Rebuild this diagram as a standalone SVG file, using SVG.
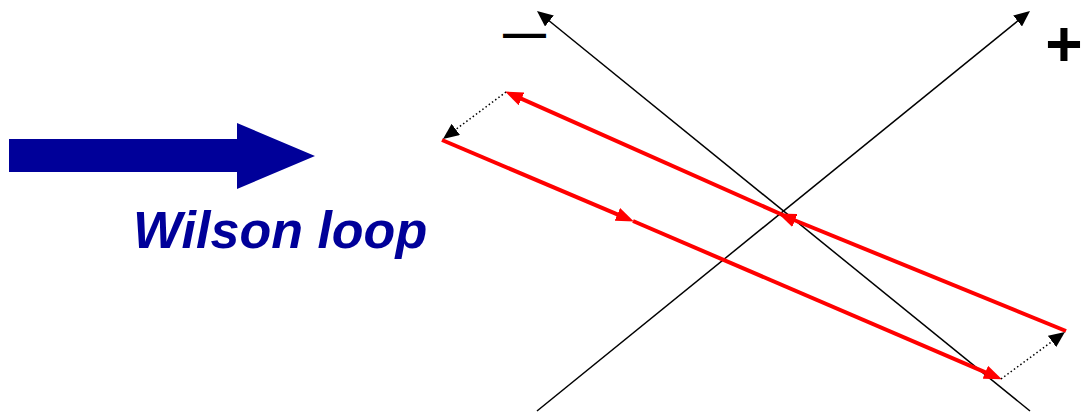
<svg xmlns="http://www.w3.org/2000/svg" width="1084" height="413" viewBox="0 0 1084 413">
<style>
.axis{stroke:#000;stroke-width:1.5;fill:none;marker-end:url(#ab)}
.dot{stroke:#000;stroke-width:1.5;fill:none;stroke-dasharray:1.5 2.5;marker-end:url(#ab)}
.red{stroke:#f00;stroke-width:4;fill:none;marker-end:url(#ar)}
.sign{font-family:"Liberation Sans",Arial,sans-serif;fill:#000}
</style>
<defs>
<marker id="ab" markerUnits="userSpaceOnUse" markerWidth="16" markerHeight="14" refX="8" refY="7" orient="auto"><path d="M0,0 L16,7 L0,14 z" fill="#000"/></marker>
<marker id="ar" markerUnits="userSpaceOnUse" markerWidth="18" markerHeight="14" refX="9" refY="7" orient="auto"><path d="M0,0 L18,7 L0,14 z" fill="#f00"/></marker>
</defs>
<g id="bigarrow"><path d="M9,139 L237,139 L237,123 L315,156 L237,189 L237,172 L9,172 z" fill="#000099"/></g>
<g id="label"><text x="133" y="248" font-family="'Liberation Sans',Arial,sans-serif" font-weight="bold" font-style="italic" font-size="52" fill="#000099">Wilson loop</text></g>
<g id="minus"><text class="sign" x="503" y="47" font-size="43" font-weight="bold">—</text></g>
<g id="plus"><text class="sign" x="1064" y="66" font-size="64" font-weight="bold" text-anchor="middle">+</text></g>
<g id="connectors">
<line class="axis" x1="1030" y1="411" x2="543.2" y2="16"/>
<line class="axis" x1="537" y1="411" x2="1023.8" y2="16"/>
<line class="red" x1="442" y1="140" x2="625.6" y2="217.9"/>
<line class="red" x1="633" y1="221" x2="993.6" y2="375.8"/>
<line class="red" x1="1066" y1="331" x2="786.6" y2="217"/>
<line class="red" x1="794" y1="220" x2="513.3" y2="95.2"/>
<line class="dot" x1="506" y1="92" x2="449.4" y2="134.2"/>
<line class="dot" x1="1001" y1="379" x2="1058.5" y2="336.7"/>
</g>
</svg>
